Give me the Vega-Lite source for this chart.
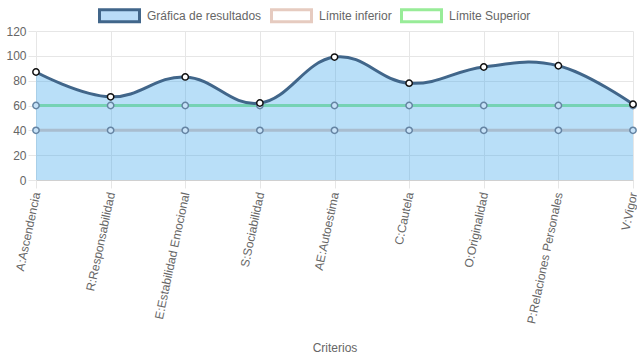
{
  "$schema": "https://vega.github.io/schema/vega-lite/v6.json",
  "width": 597,
  "height": 149,
  "autosize": {"type": "none"},
  "padding": {"left": 36, "top": 31, "right": 4, "bottom": 179},
  "background": "white",
  "config": {
    "font": "Liberation Sans",
    "view": {"stroke": null},
    "axis": {"labelFont": "Liberation Sans", "labelFontSize": 12, "labelColor": "#666666", "titleFont": "Liberation Sans", "titleFontSize": 12, "titleColor": "#666666", "titleFontWeight": "normal", "gridColor": "#e6e6e6", "tickColor": "#e6e6e6", "domainColor": "#e6e6e6"}
  },
  "data": {
    "values": [
      {"criterio": "A:Ascendencia", "serie": "Gráfica de resultados", "valor": 87},
      {"criterio": "R:Responsabilidad", "serie": "Gráfica de resultados", "valor": 67},
      {"criterio": "E:Estabilidad Emocional", "serie": "Gráfica de resultados", "valor": 83},
      {"criterio": "S:Sociabilidad", "serie": "Gráfica de resultados", "valor": 62},
      {"criterio": "AE:Autoestima", "serie": "Gráfica de resultados", "valor": 99},
      {"criterio": "C:Cautela", "serie": "Gráfica de resultados", "valor": 78},
      {"criterio": "O:Originalidad", "serie": "Gráfica de resultados", "valor": 91},
      {"criterio": "P:Relaciones Personales", "serie": "Gráfica de resultados", "valor": 92},
      {"criterio": "V:Vigor", "serie": "Gráfica de resultados", "valor": 61},
      {"criterio": "A:Ascendencia", "serie": "Límite inferior", "valor": 40},
      {"criterio": "R:Responsabilidad", "serie": "Límite inferior", "valor": 40},
      {"criterio": "E:Estabilidad Emocional", "serie": "Límite inferior", "valor": 40},
      {"criterio": "S:Sociabilidad", "serie": "Límite inferior", "valor": 40},
      {"criterio": "AE:Autoestima", "serie": "Límite inferior", "valor": 40},
      {"criterio": "C:Cautela", "serie": "Límite inferior", "valor": 40},
      {"criterio": "O:Originalidad", "serie": "Límite inferior", "valor": 40},
      {"criterio": "P:Relaciones Personales", "serie": "Límite inferior", "valor": 40},
      {"criterio": "V:Vigor", "serie": "Límite inferior", "valor": 40},
      {"criterio": "A:Ascendencia", "serie": "Límite Superior", "valor": 60},
      {"criterio": "R:Responsabilidad", "serie": "Límite Superior", "valor": 60},
      {"criterio": "E:Estabilidad Emocional", "serie": "Límite Superior", "valor": 60},
      {"criterio": "S:Sociabilidad", "serie": "Límite Superior", "valor": 60},
      {"criterio": "AE:Autoestima", "serie": "Límite Superior", "valor": 60},
      {"criterio": "C:Cautela", "serie": "Límite Superior", "valor": 60},
      {"criterio": "O:Originalidad", "serie": "Límite Superior", "valor": 60},
      {"criterio": "P:Relaciones Personales", "serie": "Límite Superior", "valor": 60},
      {"criterio": "V:Vigor", "serie": "Límite Superior", "valor": 60}
    ]
  },
  "encoding": {
    "x": {
      "field": "criterio", "type": "nominal", "sort": null,
      "scale": {"type": "point", "padding": 0},
      "axis": {"title": "Criterios", "labelAngle": -78, "labelAlign": "right", "labelBaseline": "middle", "tickSize": 8, "labelPadding": 4, "titlePadding": 18, "grid": true, "domainColor": "#d0d0d0"}
    },
    "y": {
      "field": "valor", "type": "quantitative",
      "scale": {"domain": [0, 120], "nice": false},
      "axis": {"title": null, "values": [0, 20, 40, 60, 80, 100, 120], "tickSize": 8, "labelPadding": 2, "grid": true, "domain": false}
    }
  },
  "layer": [
    {
      "transform": [{"filter": "datum.serie !== 'Gráfica de resultados'"}],
      "mark": {"type": "line", "strokeWidth": 3},
      "encoding": {
        "detail": {"field": "serie"},
        "stroke": {
          "field": "serie", "type": "nominal",
          "scale": {"domain": ["Gráfica de resultados", "Límite inferior", "Límite Superior"], "range": ["#41668a", "#e6cbc0", "#98ec98"]},
          "legend": {
            "title": null, "orient": "none", "direction": "horizontal",
            "legendX": 62, "legendY": -37,
            "symbolType": "M-1,-0.3H1V0.3H-1Z", "symbolSize": 1600, "symbolStrokeWidth": 3,
            "labelFont": "Liberation Sans", "labelFontSize": 12, "labelColor": "#666666",
            "labelOffset": 6, "columnPadding": 3,
            "encode": {"symbols": {"update": {"fill": {"signal": "datum.value === 'Gráfica de resultados' ? '#b9dcf8' : '#ffffff'"}, "fillOpacity": {"value": 1}}}}
          }
        }
      }
    },
    {
      "transform": [{"filter": "datum.serie === 'Gráfica de resultados'"}],
      "mark": {"type": "area", "interpolate": "cardinal", "tension": -0.2, "fill": "#36a2eb", "fillOpacity": 0.35}
    },
    {
      "transform": [{"filter": "datum.serie === 'Gráfica de resultados'"}],
      "mark": {"type": "line", "interpolate": "cardinal", "tension": -0.2, "strokeWidth": 3},
      "encoding": {
        "stroke": {"field": "serie", "type": "nominal"}
      }
    },
    {
      "transform": [{"filter": "datum.serie !== 'Gráfica de resultados'"}],
      "mark": {"type": "point", "filled": false, "fill": "#c6e2f8", "fillOpacity": 1, "stroke": "#6584a3", "strokeWidth": 1.5, "size": 40, "opacity": 1}
    },
    {
      "transform": [{"filter": "datum.serie === 'Gráfica de resultados'"}],
      "mark": {"type": "point", "filled": false, "fill": "#ffffff", "fillOpacity": 1, "stroke": "#111111", "strokeWidth": 1.5, "size": 40, "opacity": 1}
    }
  ]
}
